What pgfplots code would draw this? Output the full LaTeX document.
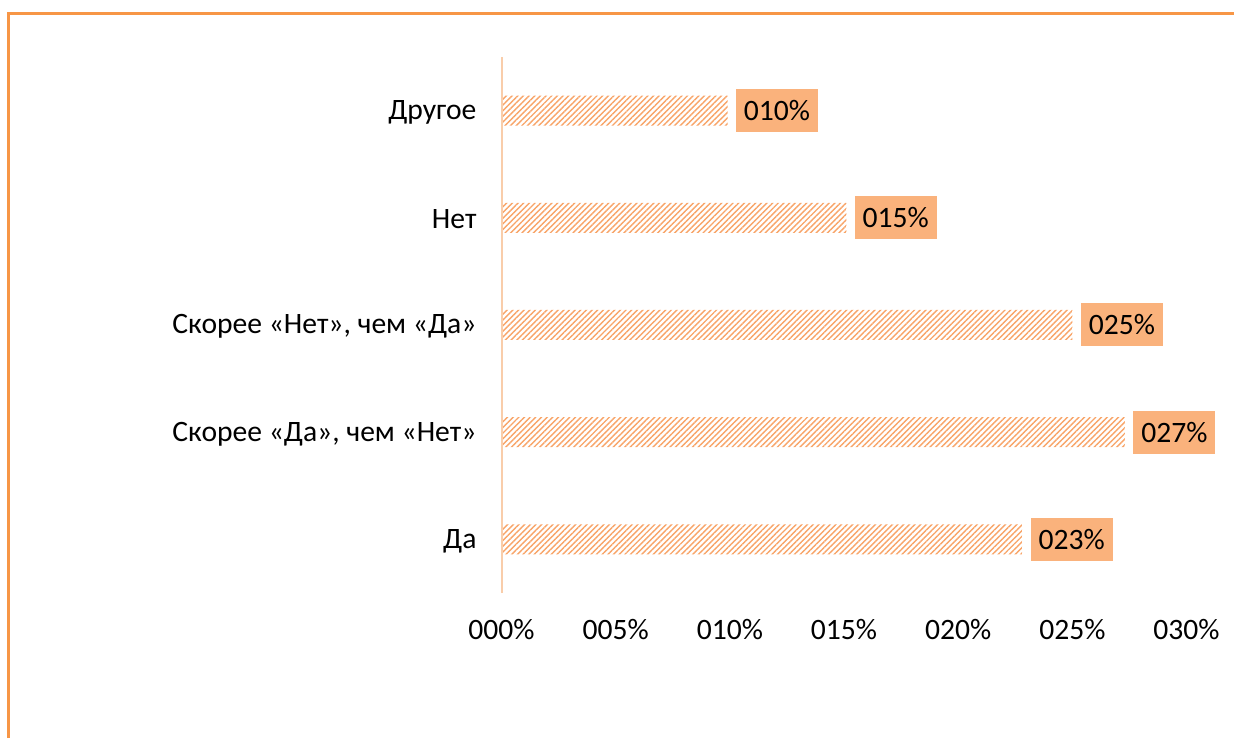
\documentclass[border=0pt]{standalone}
\usepackage{pgfplots}
\pgfplotsset{compat=1.18}
\usepackage{fontspec}
\setmainfont{Carlito}
\usetikzlibrary{patterns.meta}
\definecolor{frameor}{HTML}{F79646}
\definecolor{hatchor}{HTML}{F8A468}
\definecolor{boxor}{HTML}{FAB27C}
\definecolor{axisline}{HTML}{F9CDAA}
\begin{document}
\begin{tikzpicture}
\useasboundingbox (0,0) rectangle (617pt,369pt);
\draw[frameor,line width=1.5pt] (4pt,0) -- (4pt,362pt) -- (617pt,362pt);
\begin{axis}[
  at={(250.75pt,72.5pt)}, anchor=south west,
  scale only axis, width=342.5pt, height=268pt,
  xmin=0, xmax=0.30, ymin=-0.5, ymax=4.5,
  axis line style={draw=none},
  major tick length=0pt,
  xtick={0,0.05,0.10,0.15,0.20,0.25,0.30},
  xticklabels={000\%,005\%,010\%,015\%,020\%,025\%,030\%},
  ytick={0,1,2,3,4},
  yticklabels={Да,{Скорее «Да», чем «Нет»},{Скорее «Нет», чем «Да»},Нет,Другое},
  tick label style={font=\fontsize{14.8}{16}\selectfont, text=black},
  xticklabel style={yshift=-9.5pt},
  yticklabel style={xshift=-9pt, yshift=-0.8pt},
  xbar, bar width=15pt,
  nodes near coords,
  point meta=explicit symbolic,
  every node near coord/.append style={font=\fontsize{14.8}{16}\selectfont, text=black, fill=boxor, anchor=west, xshift=4pt, inner xsep=4pt, inner ysep=0pt, minimum height=21.5pt},
  clip=false,
]
\addplot[draw=none, pattern={Lines[angle=45,distance=2pt,line width=0.7pt]}, pattern color=hatchor]
  coordinates {(0.228,0) [023\%] (0.273,1) [027\%] (0.250,2) [025\%] (0.151,3) [015\%] (0.099,4) [010\%]};
\draw[axisline, line width=1pt] (axis cs:0,-0.5) -- (axis cs:0,4.5);
\end{axis}
\end{tikzpicture}
\end{document}
